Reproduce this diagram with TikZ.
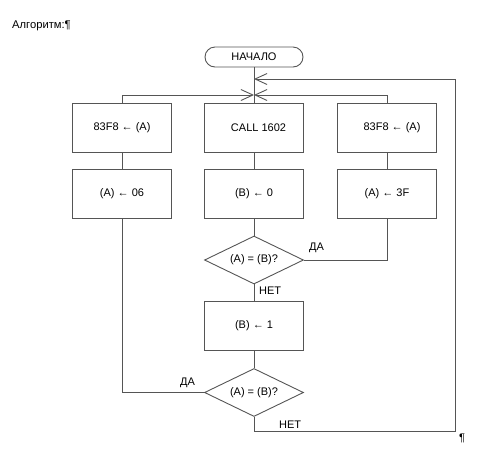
\documentclass[tikz,border=0pt]{standalone}
\usepackage{fontspec}
\setmainfont{Liberation Sans}
\usetikzlibrary{shapes.geometric,arrows.meta}
\definecolor{ln}{HTML}{555555}
\begin{document}
\begin{tikzpicture}[x=1pt,y=-1pt,
  every node/.style={font=\fontsize{11}{12}\selectfont, text=black},
  flow/.style={draw=ln, line width=0.9pt},
  procbox/.style={draw=ln, line width=0.9pt, rectangle, minimum width=99pt, minimum height=49pt, inner sep=0pt},
  termbox/.style={draw=ln, line width=0.9pt, rectangle, rounded corners=10pt, minimum width=98pt, minimum height=20pt, inner sep=0pt},
  decbox/.style={draw=ln, line width=0.9pt, diamond, aspect=2, minimum width=99pt, minimum height=48pt, inner sep=0pt},
  lbl/.style={anchor=west, inner sep=0pt},
  barb/.style={-{Straight Barb[length=12pt,width=11pt,line width=0.9pt]}}
]
\useasboundingbox (0,0) rectangle (487,451);
\node[anchor=base west, inner sep=0pt, font=\fontsize{11.2}{13}\selectfont] (title) at (12,28) {Алгоритм:¶};
\node[termbox] (start) at (254,57) {НАЧАЛО};
\node[procbox] (l1) at (122,127.5) {83F8 ← (A)\hspace{3pt}};
\node[procbox] (l2) at (122,193.5) {(A) ← 06\hspace{19pt}};
\node[procbox] (c1) at (254,127.5) {\hspace{9pt}CALL 1602};
\node[procbox] (c2) at (254,193.5) {(B) ← 0\hspace{5pt}};
\node[procbox] (r1) at (387,127.5) {\hspace{10pt}83F8 ← (A)};
\node[procbox] (r2) at (387,193.5) {(A) ← 3F};
\node[decbox] (d1) at (254,260) {(A) = (B)?};
\node[procbox] (c3) at (254,326) {(B) ← 1\hspace{12pt}};
\node[decbox] (d2) at (254,392.5) {(A) = (B)?};
\coordinate (j) at (254,95);
\coordinate (ret) at (254,79);
\coordinate (b1) at (254,431);
\coordinate (b2) at (455,431);
\coordinate (b3) at (455,79);
% main flow
\draw[flow] (start) -- (c1);
\draw[flow,barb] (l1.north) |- (j);
\draw[flow,barb] (r1.north) |- (j);
\draw[flow] (l1) -- (l2);
\draw[flow] (c1) -- (c2);
\draw[flow] (r1) -- (r2);
\draw[flow] (c2) -- (d1);
\draw[flow] (d1) -- (c3);
\draw[flow] (c3) -- (d2);
\draw[flow] (d1.east) -| (r2.south);
\draw[flow] (l2.south) |- (d2.west);
\draw[flow,barb] (d2.south) -- (b1) -- (b2) -- (b3) -- (ret);
% labels
\node[lbl] (da1) at (309,248) {ДА};
\node[lbl] (net1) at (259,291) {НЕТ};
\node[lbl] (da2) at (180,383) {ДА};
\node[lbl] (net2) at (279,425) {НЕТ};
\node[anchor=base west, inner sep=0pt] (pil) at (459,441) {¶};
\end{tikzpicture}
\end{document}
